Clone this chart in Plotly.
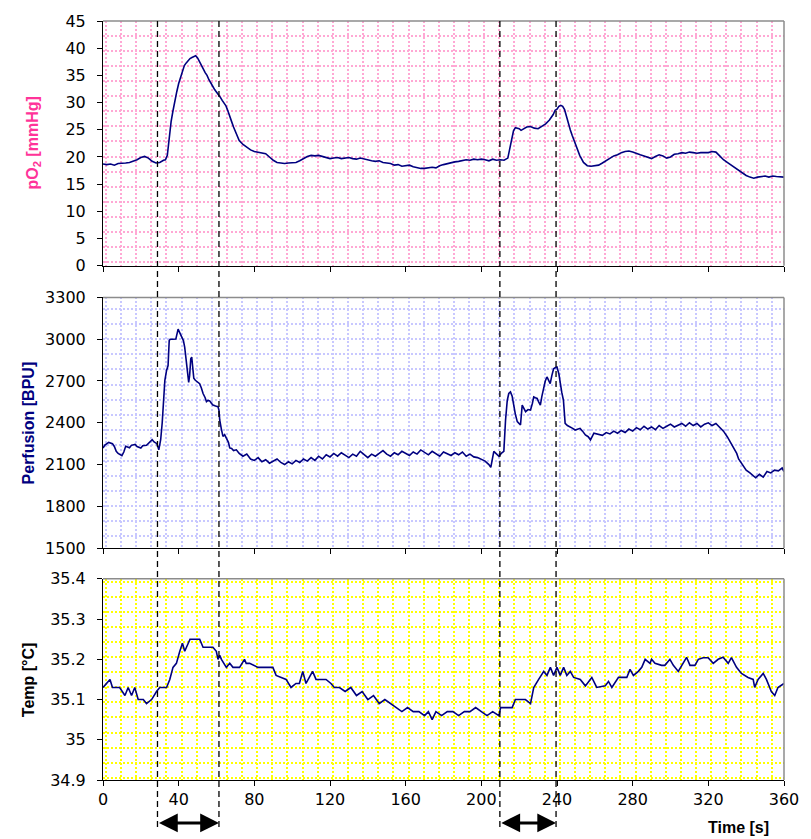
import plotly.graph_objects as go

# ---------------- data ----------------
t_po2 = [0,2,4,6,8,10,12,14,16,18,20,22,24,26,28,30,32,33,34,35,36,37,38,39,40,41,42,43,44,45,46,47,48,49,50,
         51,52,53,54,55,56,57,58,59,60,61,62,63,64,65,66,67,68,69,70,71,72,74,76,78,80,82,84,86,88,90,92,94,96,98,100,
         102,104,106,108,110,112,114,116,118,120,122,124,126,128,130,132,134,136,138,140,142,144,146,148,150,
         152,154,156,158,160,162,164,166,168,170,172,174,176,178,180,182,184,186,188,190,192,194,196,198,200,
         202,204,206,208,210,212,214,215,216,217,218,220,221,222,224,226,228,230,232,234,236,237,238,239,240,
         241,242,243,244,245,246,247,248,249,250,251,252,254,256,258,260,262,264,266,268,270,272,274,276,278,280,
         282,284,286,288,290,292,294,296,298,300,302,304,306,308,310,312,314,316,318,320,322,324,326,328,330,
         332,334,336,338,340,342,344,346,348,350,352,354,356,358,360]
po2 = [18.7,18.6,18.7,18.5,18.8,18.8,18.9,19.0,19.2,19.5,19.9,20.1,19.8,19.2,18.9,19.0,19.4,19.5,20.3,23.5,26.5,28.5,30.5,32.0,33.5,34.5,35.5,36.8,37.3,37.8,38.1,38.3,38.4,38.6,38.2,
       37.6,37.0,36.2,35.5,35.0,34.2,33.7,33.0,32.4,32.0,31.5,31.0,30.4,30.0,29.4,28.5,27.3,26.5,25.5,24.6,23.8,23.0,22.3,21.8,21.3,21.0,20.9,20.8,20.6,20.0,19.4,19.0,18.9,18.8,18.9,19.0,
       19.0,19.3,19.7,20.1,20.3,20.2,20.3,20.1,19.9,19.7,19.8,19.9,19.7,19.8,19.9,19.7,19.6,19.8,19.6,19.4,19.3,19.2,19.3,19.0,18.9,
       18.8,18.5,18.6,18.3,18.4,18.5,18.2,18.0,17.9,17.9,18.0,18.1,18.0,18.4,18.6,18.8,18.9,19.1,19.2,19.3,19.5,19.4,19.6,19.5,19.6,
       19.5,19.3,19.6,19.4,19.5,19.4,19.8,21.5,23.5,24.8,25.4,25.2,24.9,25.1,25.5,25.6,25.3,25.2,25.6,26.1,26.8,27.3,27.8,28.6,28.8,
       29.3,29.5,29.3,28.7,27.5,26.0,25.0,24.0,23.0,22.0,21.0,20.3,19.0,18.4,18.3,18.4,18.5,18.9,19.3,19.8,20.2,20.4,20.8,21.0,21.1,20.9,
       20.6,20.4,20.2,19.9,19.7,20.1,20.4,20.2,19.8,20.0,20.5,20.6,20.8,20.7,20.9,20.8,20.7,20.8,20.8,20.8,21.0,20.9,20.2,19.5,19.0,
       18.5,18.0,17.6,17.1,16.6,16.3,16.1,16.3,16.4,16.5,16.3,16.5,16.4,16.3,16.3]

t_perf = [0,1,3,5,6,7,8,10,11,12,14,15,17,18,20,21,23,24,26,27,28.5,29.5,30.5,31.3,32,32.7,33.6,34.4,35,35.5,37,38.5,39.7,40.5,41.5,42.5,43.2,44,44.8,45.3,45.8,46.4,46.9,47.5,48,48.8,50,51.1,52,52.9,54,54.7,55.5,56.4,57.3,58.1,59.5,60.8,61.3,61.7,62.5,63.4,64.3,65.5,66.3,67,68,69,70.5,
          72,74,76,78,80,82,84,86,88,90,92,94,96,98,100,102,104,106,108,110,112,114,116,118,120,122,124,126,128,130,132,134,136,138,140,142,144,146,148,150,
          152,154,156,158,160,162,164,166,168,170,172,174,176,178,180,182,184,186,188,190,192,194,196,198,200,202,204,205,206.6,208,209.3,210.5,211.9,212.8,213.7,214.5,215.4,216.3,217.2,218,219,220,220.7,221.6,222.5,223.4,224.7,226,227,227.7,228.6,229.5,230.3,231.2,232,232.9,233.8,234.7,235.5,236.4,237.3,238.2,239,240,241,241.7,242.5,243.4,244.3,245.5,247,248.3,249.6,251,252.2,253.5,255,256.5,257.7,259.5,261,262,
          264,266,268,270,272,274,276,278,280,282,284,286,288,290,292,294,296,298,300,302,304,306,308,310,312,314,316,318,320,322,324,326,328,330,332,334,335,336,338,340,342,344,345,347,349,351,353,355,357,359,360]
perf = [2219,2240,2259,2250,2230,2195,2180,2164,2190,2231,2220,2238,2245,2230,2219,2235,2238,2250,2278,2262,2250,2206,2280,2400,2600,2705,2776,2811,2990,3000,3000,3001,3072,3045,3013,2990,2942,2850,2720,2690,2740,2860,2871,2760,2720,2705,2690,2681,2650,2610,2580,2551,2560,2557,2540,2527,2520,2515,2490,2420,2360,2302,2315,2283,2260,2219,2215,2200,2206,
        2180,2160,2175,2140,2130,2150,2120,2135,2110,2125,2140,2115,2100,2120,2105,2130,2115,2140,2125,2150,2130,2160,2140,2170,2155,2180,2160,2185,2170,2150,2175,2160,2195,2170,2150,2175,2160,2180,2200,2175,
        2160,2185,2170,2195,2180,2165,2190,2175,2205,2185,2170,2195,2180,2160,2190,2175,2165,2185,2170,2190,2160,2175,2155,2150,2140,2125,2100,2080,2195,2175,2159,2180,2195,2420,2560,2610,2622,2590,2515,2460,2408,2390,2384,2527,2500,2480,2495,2492,2540,2586,2580,2575,2550,2527,2590,2658,2700,2729,2700,2681,2740,2788,2795,2800,2750,2681,2620,2562,2396,2380,2372,2360,2348,2355,2360,2340,2313,2300,2277,2325,2320,2320,
        2310,2330,2320,2340,2325,2345,2330,2355,2340,2365,2350,2375,2355,2370,2350,2380,2360,2375,2390,2370,2380,2395,2375,2400,2380,2395,2370,2390,2400,2380,2395,2370,2340,2300,2250,2200,2180,2140,2100,2060,2040,2020,2005,2030,2010,2050,2040,2060,2055,2075,2050]

t_temp = [0,2,3.7,5,8.8,11.6,13.3,15.1,16.8,18.6,21.3,23,25.7,28.3,30,33.6,35.3,37,38.8,40.6,42,43.2,45,46,51.1,52.9,58.1,59.9,60.8,61.7,62.6,65.2,67,68.7,72.2,74.8,75.7,77.5,81.9,88,89.8,91.5,96.8,99.4,102,103.8,105.6,107.3,110.8,112.6,117.9,120.5,122.3,125,
          128,131,134,137,140,143,146,149,152,155,158,161,164,167,170,172,174,176,179,182,185,188,191,194,197,200,203,206,209.3,210.2,216.3,218,223.3,226,227.7,230.3,233,234.7,236.5,238.2,240,241.7,243.5,245.2,247,248.8,252.3,255,258.4,261,265.5,267.2,269,272.5,276.9,278.6,280.4,283,284.8,286.6,289.2,290,291.8,295.3,297,299.7,301.5,304.1,306.8,308.5,310.3,312.9,314.7,317.3,319.9,322.6,325.2,327.8,330.5,332.2,334.9,337.5,341,343.7,344.5,346.3,349,350.7,353.3,355.1,356.8,359.5,360]
temp = [35.13,35.14,35.15,35.13,35.13,35.11,35.13,35.11,35.13,35.10,35.10,35.09,35.10,35.12,35.13,35.13,35.15,35.18,35.19,35.22,35.24,35.22,35.24,35.25,35.25,35.23,35.23,35.22,35.20,35.21,35.20,35.18,35.19,35.18,35.18,35.20,35.19,35.19,35.18,35.18,35.18,35.16,35.15,35.13,35.14,35.14,35.17,35.14,35.17,35.15,35.15,35.14,35.13,35.13,
        35.12,35.13,35.11,35.12,35.10,35.11,35.09,35.10,35.09,35.08,35.07,35.08,35.07,35.07,35.06,35.07,35.05,35.07,35.06,35.07,35.07,35.06,35.07,35.07,35.08,35.07,35.06,35.07,35.06,35.08,35.08,35.10,35.10,35.09,35.13,35.15,35.17,35.16,35.18,35.16,35.18,35.16,35.18,35.16,35.17,35.155,35.15,35.134,35.155,35.13,35.134,35.145,35.13,35.155,35.155,35.175,35.16,35.17,35.18,35.20,35.19,35.20,35.19,35.185,35.185,35.20,35.185,35.17,35.19,35.205,35.185,35.185,35.20,35.204,35.204,35.19,35.20,35.205,35.19,35.204,35.18,35.165,35.155,35.15,35.13,35.15,35.165,35.15,35.12,35.11,35.13,35.14,35.14]

x_ticks = [0, 40, 80, 120, 160, 200, 240, 280, 320, 360]
po2_ticks = [0, 5, 10, 15, 20, 25, 30, 35, 40, 45]
perf_ticks = [1500, 1800, 2100, 2400, 2700, 3000, 3300]
temp_ticks = [34.9, 35.0, 35.1, 35.2, 35.3, 35.4]
temp_labels = ["34.9", "35", "35.1", "35.2", "35.3", "35.4"]

# stimulation periods (s)
events = [(28.8, 61.3), (209.8, 239.5)]

# ---------------- figure ----------------
NAVY = "#000080"
TICKFONT = dict(family="DejaVu Sans", size=16, color="#000000")

fig = go.Figure()
fig.add_trace(go.Scatter(x=t_po2, y=po2, mode="lines", line=dict(color=NAVY, width=1.6),
                         xaxis="x", yaxis="y", showlegend=False))
fig.add_trace(go.Scatter(x=t_perf, y=perf, mode="lines", line=dict(color=NAVY, width=1.6),
                         xaxis="x2", yaxis="y2", showlegend=False))
fig.add_trace(go.Scatter(x=t_temp, y=temp, mode="lines", line=dict(color=NAVY, width=1.6),
                         xaxis="x3", yaxis="y3", showlegend=False))

doms = {"": [0.6775, 1.0], "2": [0.3055, 0.6358], "3": [0.0, 0.2650]}
gridcols = {"": "#FFA8D4", "2": "#C8C8FF", "3": "#FFFF00"}
yranges = {"": [0, 45], "2": [1500, 3300], "3": [34.9, 35.4]}
yminor = {"": dict(dtick=2.78, tick0=39.53), "2": dict(dtick=109, tick0=3001), "3": dict(dtick=0.0375, tick0=35.393)}
yticks = {"": (po2_ticks, [str(v) for v in po2_ticks]),
          "2": (perf_ticks, [str(v) for v in perf_ticks]),
          "3": (temp_ticks, temp_labels)}

layout = dict(width=811, height=839, margin=dict(l=103, r=25, t=14, b=59),
              paper_bgcolor="white", plot_bgcolor="white", showlegend=False)

GRIDDASH = "2px,2px"
for k in ["", "2", "3"]:
    gc = gridcols[k]
    layout["xaxis" + k] = dict(
        domain=[0, 1], anchor="y" + k, range=[0, 360], showline=True, linecolor="#000000", linewidth=1,
        ticks="outside", ticklen=5, tickcolor="#000000", tickvals=x_ticks,
        showticklabels=(k == "3"), tickfont=TICKFONT, showgrid=False, zeroline=False,
        minor=dict(dtick=8, tick0=1.5, showgrid=True, gridcolor=gc, gridwidth=2, griddash=GRIDDASH, ticks=""),
    )
    tv, tt = yticks[k]
    layout["yaxis" + k] = dict(
        domain=doms[k], anchor="x" + k, range=yranges[k], showline=True, linecolor="#000000", linewidth=1,
        ticks="outside", ticklen=5, tickcolor="#000000", tickvals=tv, ticktext=tt, tickfont=TICKFONT,
        ticklabelstandoff=8, showgrid=False, zeroline=False,
        minor=dict(showgrid=True, gridcolor=gc, gridwidth=2, griddash=GRIDDASH, ticks="", **yminor[k]),
    )

fig.update_layout(**layout)

# gray top / right border of each plot area
for k in ["", "2", "3"]:
    xr, yr = "x%s domain" % k, "y%s domain" % k
    fig.add_shape(type="line", xref=xr, yref=yr, x0=0, x1=1, y0=1, y1=1, line=dict(color="#8C8C8C", width=1.5))
    fig.add_shape(type="line", xref=xr, yref=yr, x0=1, x1=1, y0=0, y1=1, line=dict(color="#8C8C8C", width=1.5))

# dashed event lines and double arrows
for (a, b) in events:
    for xv in (a, b):
        fig.add_shape(type="line", xref="x3", yref="paper", x0=xv, x1=xv, y0=1.0, y1=-0.066,
                      line=dict(color="#000000", width=1.3, dash="6px,4px"), layer="above")
    fig.add_annotation(x=b, y=-0.0565, xref="x3", yref="paper", ax=a, ay=0, axref="x3", ayref="pixel",
                       text="", showarrow=True, arrowside="end+start", arrowhead=2, startarrowhead=2,
                       arrowsize=1.25, startarrowsize=1.25, arrowwidth=3, arrowcolor="#000000",
                       standoff=0, startstandoff=0)

# axis titles
fig.add_annotation(text="pO<sub>2</sub> [mmHg]", xref="paper", yref="paper", x=-0.1025, y=0.8388,
                   textangle=-90, showarrow=False, xanchor="center", yanchor="middle",
                   font=dict(family="Liberation Sans", size=16, color="#FF3399", weight="bold"))
fig.add_annotation(text="Perfusion [BPU]", xref="paper", yref="paper", x=-0.1091, y=0.4707,
                   textangle=-90, showarrow=False, xanchor="center", yanchor="middle",
                   font=dict(family="Liberation Sans", size=16, color=NAVY, weight="bold"))
fig.add_annotation(text="Temp [°C]", xref="paper", yref="paper", x=-0.1091, y=0.1325,
                   textangle=-90, showarrow=False, xanchor="center", yanchor="middle",
                   font=dict(family="Liberation Sans", size=16, color="#000000", weight="bold"))
fig.add_annotation(text="Time [s]", xref="paper", yref="paper", x=0.9327, y=-0.0627,
                   showarrow=False, xanchor="center", yanchor="middle",
                   font=dict(family="Liberation Sans", size=16, color="#000000", weight="bold"))

fig.write_html("out.html")
